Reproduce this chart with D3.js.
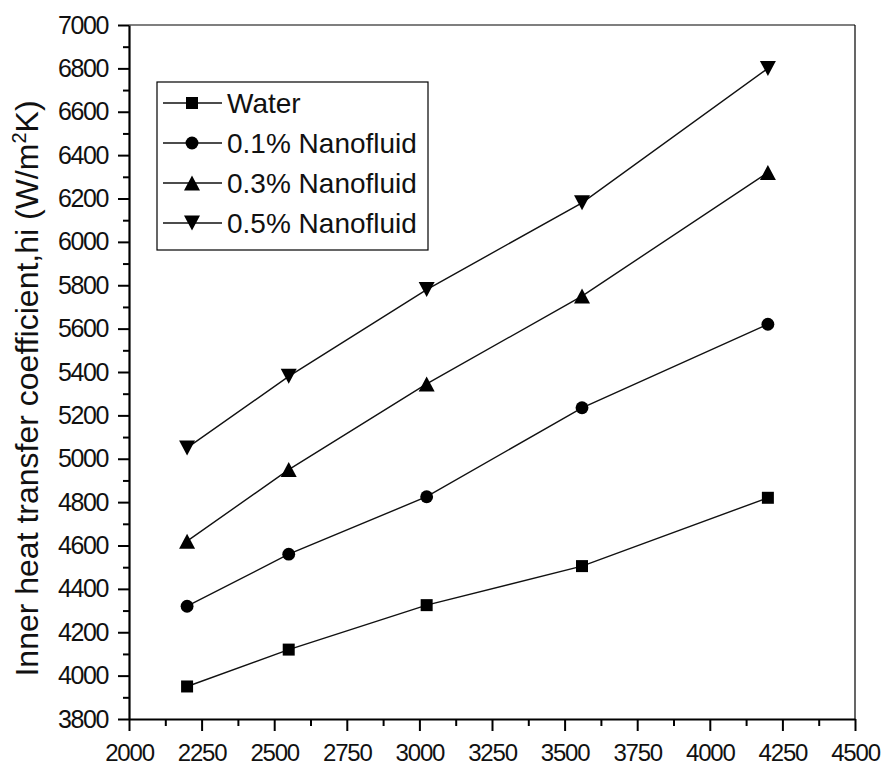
<!DOCTYPE html>
<html>
<head>
<meta charset="utf-8">
<script src="https://cdn.jsdelivr.net/npm/d3@7/dist/d3.min.js"></script>
<style>
  html, body { margin: 0; padding: 0; background: #fff; }
  svg { display: block; }
  text { font-family: "Liberation Sans", Arial, sans-serif; fill: #111; }
</style>
</head>
<body>
<svg id="chart" width="885" height="768"></svg>
<script>
// ---- data ----
const xValues = [2200, 2550, 3025, 3560, 4200];
const seriesNames = ["Water", "0.1% Nanofluid", "0.3% Nanofluid", "0.5% Nanofluid"];
const waterValues = [3950, 4120, 4325, 4505, 4820];
const nano01Values = [4320, 4560, 4825, 5235, 5620];
const nano03Values = [4620, 4950, 5345, 5750, 6320];
const nano05Values = [5050, 5380, 5780, 6180, 6800];
const xTicks = [2000, 2250, 2500, 2750, 3000, 3250, 3500, 3750, 4000, 4250, 4500];
const yTicks = [3800, 4000, 4200, 4400, 4600, 4800, 5000, 5200, 5400, 5600, 5800, 6000, 6200, 6400, 6600, 6800, 7000];
const yTitle = "Inner heat transfer coefficient,hi (W/m";
const yTitleSup = "2";
const yTitleEnd = "K)";

const allSeries = [waterValues, nano01Values, nano03Values, nano05Values];

(function () {
// ---- layout ----
const svg = d3.select("#chart");
const pL = 129, pR = 855, pT = 25, pB = 719;

const x = d3.scaleLinear().domain([2000, 4500]).range([pL, pR]);
const y = d3.scaleLinear().domain([3800, 7000]).range([pB, pT]);

// custom symbol types
const triUp = { draw(ctx, size) { const w = 8, h = 7.5; ctx.moveTo(0, -h); ctx.lineTo(w, h); ctx.lineTo(-w, h); ctx.closePath(); } };
const triDown = { draw(ctx, size) { const w = 8, h = 7.5; ctx.moveTo(0, h); ctx.lineTo(w, -h); ctx.lineTo(-w, -h); ctx.closePath(); } };
const symbols = [
  d3.symbol(d3.symbolSquare, 144),
  d3.symbol(d3.symbolCircle, 130),
  d3.symbol(triUp, 100),
  d3.symbol(triDown, 100)
];

// frame (top & right)
svg.append("line").attr("x1", pL).attr("x2", pR).attr("y1", pT).attr("y2", pT)
  .attr("stroke", "#000").attr("stroke-width", 1.2);
svg.append("line").attr("x1", pR).attr("x2", pR).attr("y1", pT).attr("y2", pB)
  .attr("stroke", "#000").attr("stroke-width", 1.2);

// minor ticks
const xMinor = d3.range(2125, 4500, 250);
const yMinor = d3.range(3900, 7000, 200);
svg.append("g").attr("transform", `translate(0,${pB})`)
  .call(d3.axisBottom(x).tickValues(xMinor).tickSize(7).tickFormat(""))
  .call(g => g.select(".domain").remove())
  .selectAll("line").attr("stroke", "#000").attr("stroke-width", 2);
svg.append("g").attr("transform", `translate(${pL},0)`)
  .call(d3.axisLeft(y).tickValues(yMinor).tickSize(6).tickFormat(""))
  .call(g => g.select(".domain").remove())
  .selectAll("line").attr("stroke", "#000").attr("stroke-width", 2);

// major axes
const xAxis = svg.append("g").attr("transform", `translate(0,${pB})`)
  .call(d3.axisBottom(x).tickValues(xTicks).tickSize(12).tickSizeOuter(0).tickPadding(14).tickFormat(d3.format("d")));
xAxis.select(".domain").attr("stroke", "#000").attr("stroke-width", 2.2);
xAxis.selectAll("line").attr("stroke", "#000").attr("stroke-width", 2);
xAxis.selectAll("text").attr("font-size", 24).style("letter-spacing", "-1.2px")
  .attr("fill", "#111").attr("dy", null).attr("y", 42);

const yAxis = svg.append("g").attr("transform", `translate(${pL},0)`)
  .call(d3.axisLeft(y).tickValues(yTicks).tickSize(11).tickSizeOuter(0).tickPadding(10).tickFormat(d3.format("d")));
yAxis.select(".domain").attr("stroke", "#000").attr("stroke-width", 2.2);
yAxis.selectAll("line").attr("stroke", "#000").attr("stroke-width", 2);
yAxis.selectAll("text").attr("font-size", 25).style("letter-spacing", "-1.4px").attr("fill", "#111");

// y title
const yt = svg.append("text")
  .attr("transform", `translate(38,${(97 + 680) / 2}) rotate(-90)`)
  .attr("text-anchor", "middle")
  .attr("font-size", 32);
yt.append("tspan").text(yTitle);
yt.append("tspan").attr("dy", -12).attr("font-size", 20).text(yTitleSup);
yt.append("tspan").attr("dy", 12).text(yTitleEnd);

// series
const line = d3.line().x((d, i) => x(xValues[i])).y(d => y(d));
allSeries.forEach((vals, si) => {
  svg.append("path").datum(vals).attr("d", line)
    .attr("fill", "none").attr("stroke", "#111").attr("stroke-width", 1.4);
  svg.append("g").selectAll("path").data(vals).join("path")
    .attr("transform", (d, i) => `translate(${x(xValues[i])},${y(d)})`)
    .attr("d", symbols[si]).attr("fill", "#000");
});

// legend
const lg = svg.append("g");
lg.append("rect").attr("x", 157).attr("y", 82).attr("width", 271).attr("height", 168)
  .attr("fill", "#fff").attr("stroke", "#000").attr("stroke-width", 1.2);
const rowY = d3.scalePoint().domain(seriesNames).range([103, 223]);
seriesNames.forEach((name, si) => {
  const yy = rowY(name);
  lg.append("line").attr("x1", 163).attr("x2", 222).attr("y1", yy).attr("y2", yy)
    .attr("stroke", "#111").attr("stroke-width", 1.4);
  lg.append("path").attr("transform", `translate(192,${yy})`).attr("d", symbols[si]).attr("fill", "#000");
  lg.append("text").attr("x", 227).attr("y", yy).attr("dy", "0.36em")
    .attr("font-size", 28).text(name);
});
})();
</script>
</body>
</html>
